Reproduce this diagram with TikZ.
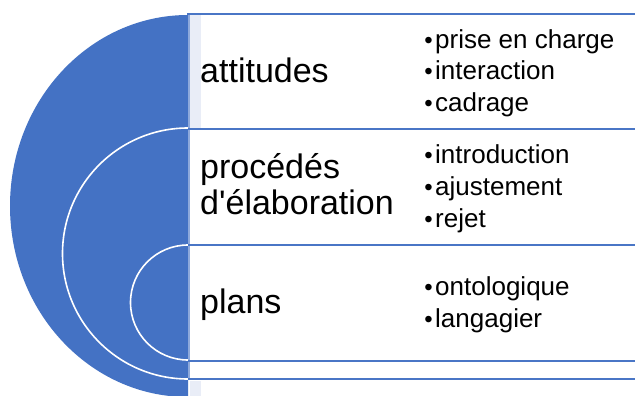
\documentclass[tikz,border=0pt]{standalone}
\usepackage{fontspec}
\setmainfont{Liberation Sans}[Ligatures=TeXOff]
\definecolor{mainblue}{HTML}{4472C4}
\definecolor{lineblue}{HTML}{4A76C6}
\definecolor{paleblue}{HTML}{E9EDF7}
\definecolor{edgeblue}{HTML}{8EA9DB}
\tikzset{
  lbl/.style={anchor=base west, inner sep=0pt, font=\fontsize{34}{40}\selectfont, text=black},
  item/.style={anchor=base west, inner sep=0pt, font=\fontsize{26}{32}\selectfont, text=black},
  bul/.style={anchor=base east, inner sep=0pt, font=\fontsize{24}{32}\selectfont, text=black},
  rowline/.style={draw=lineblue, line width=2.4pt},
  arcline/.style={draw=white, line width=1.6pt},
}
\begin{document}
\begin{tikzpicture}[x=1pt, y=-1pt]
\useasboundingbox (0,0) rectangle (635,396);
\fill[white] (0,0) rectangle (635,396);
% pale strips
\fill[paleblue] (190,15) rectangle (201,128);
\fill[paleblue] (190,381) rectangle (201,396);
% big blue half disc
\fill[mainblue] (188,15) arc[start angle=270, end angle=90, x radius=178, y radius=191] -- cycle;
% white arcs
\draw[arcline] (188,128) arc[start angle=270, end angle=90, radius=125.5];
\draw[arcline] (188,245) arc[start angle=270, end angle=90, radius=57.5];
% row lines
\coordinate (r0l) at (187,14);  \coordinate (r0r) at (635,14);
\coordinate (r1l) at (188,129); \coordinate (r1r) at (635,129);
\coordinate (r2l) at (188,245); \coordinate (r2r) at (635,245);
\coordinate (r3l) at (188,361); \coordinate (r3r) at (635,361);
\coordinate (r4l) at (188,379); \coordinate (r4r) at (635,379);
\draw[edgeblue, line width=1.4pt] (189,14) -- (189,380);
\draw[rowline] (r0l) -- (r0r);
\draw[rowline] (r1l) -- (r1r);
\draw[rowline] (r2l) -- (r2r);
\draw[rowline] (r3l) -- (r3r);
\draw[rowline] (r4l) -- (r4r);
% labels
\node[lbl] (l1) at (200,82) {attitudes};
\node[lbl] (l2a) at (200,178) {procédés};
\node[lbl] (l2b) at (200,214) {d'élaboration};
\node[lbl] (l3) at (200,313) {plans};
% items
\foreach \nm/\yy/\tx in {a1/49/prise en charge, a2/80/interaction, a3/111/cadrage,
  b1/163/introduction, b2/195/ajustement, b3/227/rejet,
  c1/295/ontologique, c2/327/langagier}{
  \node[item] (\nm) at (435,\yy) {\tx};
  \node[bul] (\nm-b) at (433,\yy) {•};
}
\end{tikzpicture}
\end{document}
